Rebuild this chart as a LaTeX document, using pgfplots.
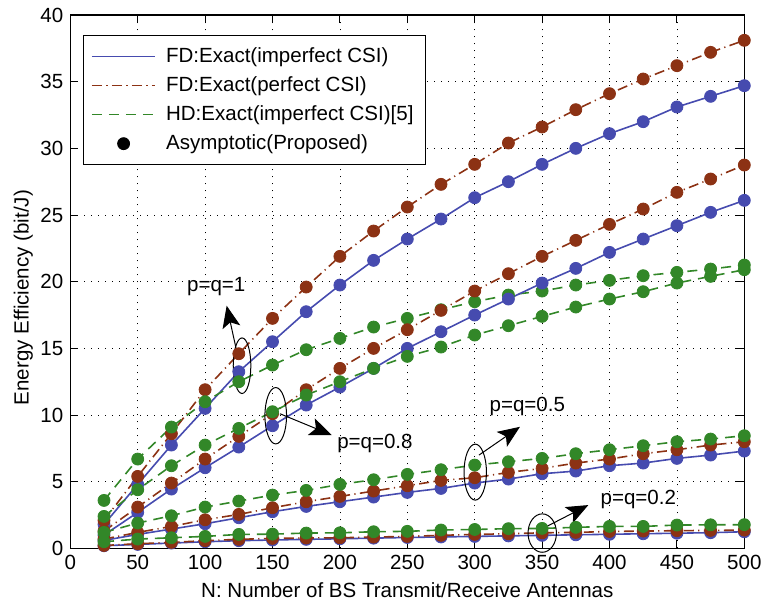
\documentclass[border=0pt]{standalone}
\usepackage{fontspec}
\setmainfont{Liberation Sans}
\usepackage{pgfplots}
\usepackage{pgfplotstable}
\pgfplotsset{compat=1.18}
\usetikzlibrary{arrows.meta}
\definecolor{cb}{RGB}{70,75,175}
\definecolor{cr}{RGB}{140,50,20}
\definecolor{cg}{RGB}{50,135,40}

% p=q=1
\pgfplotstableread{
N b r g
25 1.8 2.1 3.6
50 4.8 5.4 6.7
75 7.75 8.6 9.1
100 10.5 11.9 11.0
125 13.25 14.6 12.5
150 15.5 17.25 13.75
175 17.75 19.6 14.9
200 19.75 21.9 15.75
225 21.6 23.8 16.6
250 23.2 25.6 17.25
275 24.7 27.3 17.9
300 26.3 28.8 18.5
325 27.5 30.4 19.0
350 28.8 31.6 19.3
375 30.0 32.9 19.75
400 31.1 34.1 20.1
425 32.0 35.2 20.45
450 33.1 36.2 20.7
475 33.9 37.2 20.95
500 34.7 38.1 21.25
}\tA
% p=q=0.8
\pgfplotstableread{
N b r g
25 1.0 1.3 2.4
50 2.7 3.1 4.4
75 4.45 4.9 6.2
100 6.05 6.7 7.75
125 7.6 8.4 9.0
150 9.2 10.1 10.25
175 10.75 11.9 11.5
200 12.1 13.5 12.5
225 13.5 15.0 13.5
250 15.0 16.4 14.4
275 16.25 17.85 15.1
300 17.5 19.3 16.0
325 18.7 20.6 16.7
350 19.9 21.9 17.4
375 21.0 23.1 18.1
400 22.2 24.3 18.7
425 23.2 25.45 19.25
450 24.2 26.7 19.9
475 25.2 27.7 20.4
500 26.1 28.75 20.9
}\tB
% p=q=0.5
\pgfplotstableread{
N b r g
25 0.6 0.7 1.2
50 1.05 1.2 1.9
75 1.45 1.65 2.45
100 1.85 2.15 3.1
125 2.3 2.55 3.55
150 2.75 3.05 4.0
175 3.15 3.5 4.35
200 3.5 3.9 4.8
225 3.85 4.3 5.15
250 4.2 4.7 5.55
275 4.5 5.1 5.9
300 4.9 5.3 6.25
325 5.2 5.7 6.5
350 5.6 6.0 6.75
375 5.8 6.4 7.1
400 6.2 6.7 7.4
425 6.4 7.1 7.7
450 6.75 7.4 8.0
475 7.0 7.75 8.2
500 7.3 8.0 8.45
}\tC
% p=q=0.2
\pgfplotstableread{
N b r g
25 0.2 0.22 0.5
50 0.3 0.35 0.7
75 0.4 0.45 0.8
100 0.5 0.58 0.9
125 0.58 0.68 1.05
150 0.63 0.75 1.07
175 0.68 0.78 1.15
200 0.72 0.8 1.17
225 0.77 0.85 1.25
250 0.82 0.9 1.28
275 0.86 0.98 1.38
300 0.9 1.05 1.42
325 0.94 1.1 1.48
350 0.98 1.17 1.5
375 1.02 1.2 1.58
400 1.06 1.27 1.65
425 1.1 1.3 1.65
450 1.14 1.33 1.75
475 1.18 1.35 1.77
500 1.25 1.37 1.78
}\tD

\pgfplotsset{
  lb/.style={cb, line width=0.8bp},
  lr/.style={cr, line width=0.8bp, dash pattern=on 5bp off 2.2bp on 0.6bp off 2.2bp},
  lg/.style={cg, line width=0.8bp, dash pattern=on 5bp off 3.5bp},
  mk/.style={only marks, mark=*, mark size=3bp, #1, mark options={draw=#1, fill=#1}, forget plot},
}

\begin{document}
\begin{tikzpicture}
\begin{axis}[
  name=ax,
  scale only axis,
  width=337bp, height=266.7bp,
  xmin=0, xmax=500, ymin=0, ymax=40,
  xtick={0,50,...,500}, ytick={0,5,...,40},
  clip=false,
  grid=major,
  major grid style={black, line width=0.35bp, dash pattern=on 0.5bp off 3bp},
  tick align=inside,
  major tick length=4bp,
  axis line style={black, line width=0.6bp},
  tick style={black, line width=0.5bp},
  font=\fontsize{10.3}{12}\selectfont,
  /pgf/number format/assume math mode=true,
  ticklabel style={font=\fontsize{10.3}{12}\selectfont},
  xlabel={N: Number of BS Transmit/Receive Antennas},
  ylabel={Energy Efficiency (bit/J)},
  xlabel style={at={(axis description cs:0.5,-0.0787)}, anchor=center},
  ylabel style={at={(axis description cs:-0.0697,0.47)}, anchor=center},
  legend style={at={(rel axis cs:0.0184,0.962)}, anchor=north west,
    draw=black, fill=white,
    font=\fontsize{10.3}{12}\selectfont,
    inner xsep=4bp, inner ysep=4bp, row sep=1.6bp, column sep=3bp},
  legend cell align=left,
  legend image code/.code={\draw[#1] (0bp,0bp) -- (31.7bp,0bp);},
]
% lines
\addplot[lb] table[x=N,y=b]{\tA};
\addlegendentry{FD:Exact(imperfect CSI)}
\addplot[lr] table[x=N,y=r]{\tA};
\addlegendentry{FD:Exact(perfect CSI)}
\addplot[lg] table[x=N,y=g]{\tA};
\addlegendentry{HD:Exact(imperfect CSI)[5]}
\addlegendimage{legend image code/.code={\fill[black] (15.85bp,0bp) circle (3bp);}}
\addlegendentry{Asymptotic(Proposed)}

\addplot[lb, forget plot] table[x=N,y=b]{\tB};
\addplot[lr, forget plot] table[x=N,y=r]{\tB};
\addplot[lg, forget plot] table[x=N,y=g]{\tB};
\addplot[lb, forget plot] table[x=N,y=b]{\tC};
\addplot[lr, forget plot] table[x=N,y=r]{\tC};
\addplot[lg, forget plot] table[x=N,y=g]{\tC};
\addplot[lb, forget plot] table[x=N,y=b]{\tD};
\addplot[lr, forget plot] table[x=N,y=r]{\tD};
\addplot[lg, forget plot] table[x=N,y=g]{\tD};

% markers
\addplot[mk=cb] table[x=N,y=b]{\tA};
\addplot[mk=cr] table[x=N,y=r]{\tA};
\addplot[mk=cg] table[x=N,y=g]{\tA};
\addplot[mk=cb] table[x=N,y=b]{\tB};
\addplot[mk=cr] table[x=N,y=r]{\tB};
\addplot[mk=cg] table[x=N,y=g]{\tB};
\addplot[mk=cb] table[x=N,y=b]{\tC};
\addplot[mk=cr] table[x=N,y=r]{\tC};
\addplot[mk=cg] table[x=N,y=g]{\tC};
\addplot[mk=cb] table[x=N,y=b]{\tD};
\addplot[mk=cr] table[x=N,y=r]{\tD};
\addplot[mk=cg] table[x=N,y=g]{\tD};

% annotations
\draw[black, line width=0.5bp] (axis cs:127.4,13.7) ellipse [x radius=4.4bp, y radius=13.9bp];
\draw[black, line width=0.5bp, -{Stealth[length=11bp, width=9bp, inset=2.5bp]}] (axis cs:124.6,14.25) -- (axis cs:116.0,18.2);
\node[font=\fontsize{10.3}{12}\selectfont] at (axis cs:108.3,19.6) {p=q=1};

\draw[black, line width=0.5bp] (axis cs:152.4,9.95) ellipse [x radius=5.4bp, y radius=14.1bp];
\draw[black, line width=0.5bp, -{Stealth[length=11bp, width=9bp, inset=2.5bp]}] (axis cs:155.5,10.1) -- (axis cs:193.9,8.5);
\node[font=\fontsize{10.3}{12}\selectfont] at (axis cs:226,7.9) {p=q=0.8};

\draw[black, line width=0.5bp] (axis cs:300.4,5.72) ellipse [x radius=5.6bp, y radius=14bp];
\draw[black, line width=0.5bp, -{Stealth[length=11bp, width=9bp, inset=2.5bp]}] (axis cs:303.2,7.0) -- (axis cs:333.6,9.12);
\node[font=\fontsize{10.3}{12}\selectfont] at (axis cs:339,10.67) {p=q=0.5};

\draw[black, line width=0.5bp] (axis cs:350.1,1.15) ellipse [x radius=7.1bp, y radius=9.6bp];
\draw[black, line width=0.5bp, -{Stealth[length=11bp, width=9bp, inset=2.5bp]}] (axis cs:353.9,1.67) -- (axis cs:384.3,3.25);
\node[font=\fontsize{10.3}{12}\selectfont] at (axis cs:421.4,3.67) {p=q=0.2};
\end{axis}
\pgfresetboundingbox
\path ([shift={(-35.15bp,-28.5bp)}]ax.south west) rectangle ([shift={(11.35bp,7.5bp)}]ax.north east);
\end{tikzpicture}
\end{document}
